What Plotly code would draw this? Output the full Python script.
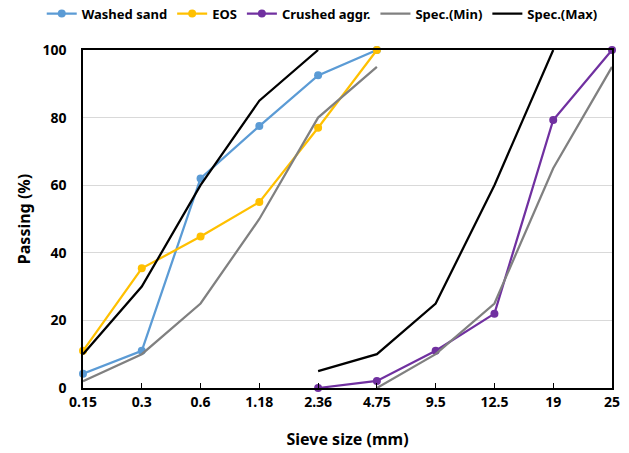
import plotly.graph_objects as go

sieves = ["0.15", "0.3", "0.6", "1.18", "2.36", "4.75", "9.5", "12.5", "19", "25"]

washed_x = ["0.15", "0.3", "0.6", "1.18", "2.36", "4.75"]
washed_y = [4.2, 11, 62, 77.5, 92.5, 100]

eos_x = ["0.15", "0.3", "0.6", "1.18", "2.36", "4.75"]
eos_y = [11, 35.4, 44.8, 55, 77, 100]

crushed_x = ["2.36", "4.75", "9.5", "12.5", "19", "25"]
crushed_y = [0, 2.1, 11, 22, 79.3, 100]

spec_min_fine_x = ["0.15", "0.3", "0.6", "1.18", "2.36", "4.75"]
spec_min_fine_y = [2, 10, 25, 50, 80, 95]
spec_min_coarse_x = ["4.75", "9.5", "12.5", "19", "25"]
spec_min_coarse_y = [0, 10, 25, 65, 95]

spec_max_fine_x = ["0.15", "0.3", "0.6", "1.18", "2.36"]
spec_max_fine_y = [10, 30, 60, 85, 100]
spec_max_coarse_x = ["2.36", "4.75", "9.5", "12.5", "19"]
spec_max_coarse_y = [5, 10, 25, 60, 100]

FONT = "Noto Sans"

fig = go.Figure()

def join(xa, ya, xb, yb):
    return xa + [None] + xb, ya + [None] + yb

fig.add_trace(go.Scatter(x=washed_x, y=washed_y, name="Washed sand", mode="lines+markers",
                         line=dict(color="#5B9BD5", width=2.25), marker=dict(size=8, color="#5B9BD5"),
                         cliponaxis=False))
fig.add_trace(go.Scatter(x=eos_x, y=eos_y, name="EOS", mode="lines+markers",
                         line=dict(color="#FFC000", width=2.25), marker=dict(size=8, color="#FFC000"),
                         cliponaxis=False))
fig.add_trace(go.Scatter(x=crushed_x, y=crushed_y, name="Crushed aggr.", mode="lines+markers",
                         line=dict(color="#7030A0", width=2.25), marker=dict(size=8, color="#7030A0"),
                         cliponaxis=False))
mx, my = join(spec_min_fine_x, spec_min_fine_y, spec_min_coarse_x, spec_min_coarse_y)
fig.add_trace(go.Scatter(x=mx, y=my, name="Spec.(Min)", mode="lines", connectgaps=False,
                         line=dict(color="#808080", width=2.25)))
Mx, My = join(spec_max_fine_x, spec_max_fine_y, spec_max_coarse_x, spec_max_coarse_y)
fig.add_trace(go.Scatter(x=Mx, y=My, name="Spec.(Max)", mode="lines", connectgaps=False,
                         line=dict(color="#000000", width=2.25)))

fig.update_layout(
    width=629, height=453,
    margin=dict(l=83, r=17, t=50, b=65, autoexpand=False),
    paper_bgcolor="white", plot_bgcolor="white",
    font=dict(family=FONT, size=14, color="#000000"),
    legend=dict(orientation="h", x=-0.078, xanchor="left",
                y=1.152, yanchor="top",
                font=dict(family=FONT, size=13, weight="bold"),
                itemwidth=30, tracegroupgap=0, bgcolor="rgba(0,0,0,0)"),
    showlegend=True,
)
fig.update_xaxes(
    type="category", categoryorder="array", categoryarray=sieves,
    range=[0, 9],
    showline=True, linecolor="black", linewidth=1.5, mirror=True,
    ticks="inside", ticklen=5, tickcolor="black",
    showgrid=False, zeroline=False,
    tickfont=dict(family=FONT, size=14, weight="bold"),
    title=dict(text="Sieve size (mm)", font=dict(family=FONT, size=16, weight="bold"), standoff=24),
)
fig.update_yaxes(
    range=[0, 100], dtick=20,
    showline=True, linecolor="black", linewidth=1.5, mirror=True,
    ticks="", showgrid=True, gridcolor="#D9D9D9", gridwidth=1, zeroline=False,
    ticklabelstandoff=12,
    tickfont=dict(family=FONT, size=14, weight="bold"),
    title=dict(text="Passing (%)", font=dict(family=FONT, size=16, weight="bold"), standoff=8),
)

fig.write_html("out.html", config={"displayModeBar": False},
               post_script="document.body.style.margin='0';")
